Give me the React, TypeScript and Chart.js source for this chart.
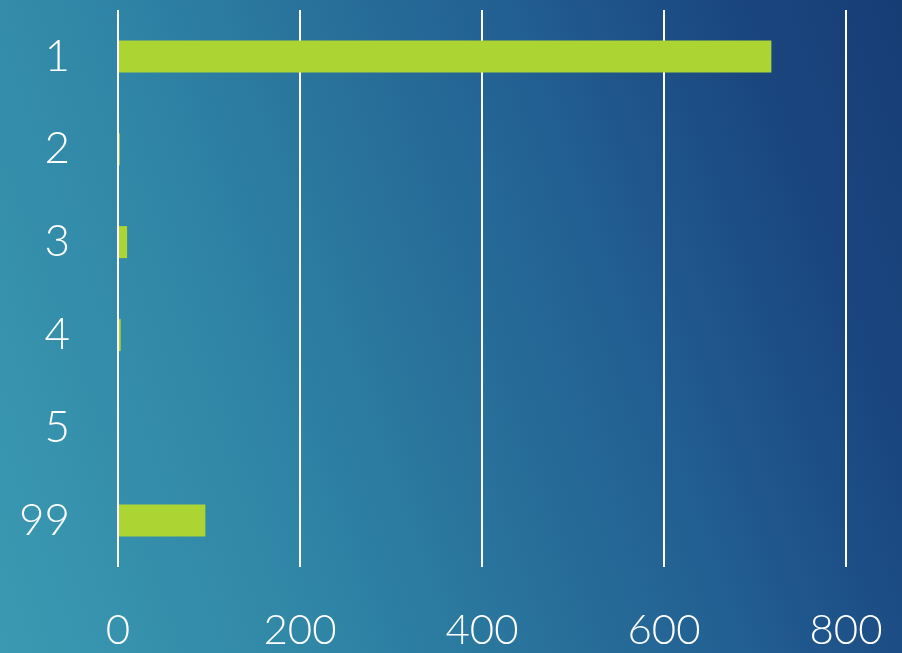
import React, { useEffect, useRef } from "react";
import { Chart, registerables } from "chart.js";

Chart.register(...registerables);

const categories = ["1", "2", "3", "4", "5", "99"];
const values = [718, 2, 10, 3, 0, 96];
const xTicks = [0, 200, 400, 600, 800];

export default function App() {
  const ref = useRef<HTMLCanvasElement | null>(null);

  useEffect(() => {
    document.body.style.margin = "0";
    const ctx = ref.current!.getContext("2d")!;
    const chart = new Chart(ctx, {
      type: "bar",
      data: {
        labels: categories,
        datasets: [
          {
            data: values,
            backgroundColor: "#acd432",
            borderWidth: 0,
            categoryPercentage: 1,
            barPercentage: 0.345,
          },
        ],
      },
      options: {
        indexAxis: "y",
        animation: false,
        responsive: false,
        maintainAspectRatio: false,
        layout: { padding: { top: 10, right: 56, left: 0, bottom: 0 } },
        plugins: { legend: { display: false }, tooltip: { enabled: false } },
        scales: {
          x: {
            min: 0,
            max: 800,
            afterBuildTicks: (s: any) => {
              s.ticks = xTicks.map((v) => ({ value: v }));
            },
            afterFit: (s: any) => {
              s.height = 86;
              s.paddingLeft = 0;
              s.paddingRight = 0;
              s.paddingTop = 0;
              s.paddingBottom = 0;
            },
            grid: { color: "#ffffff", lineWidth: 2, drawTicks: false },
            border: { display: false },
            ticks: {
              color: "#ffffff",
              padding: 38,
              font: { family: "Lato", size: 42, weight: "300" as any },
            },
          },
          y: {
            afterFit: (s: any) => {
              s.width = 118;
              s.paddingLeft = 0;
              s.paddingRight = 0;
              s.paddingTop = 0;
              s.paddingBottom = 0;
            },
            grid: { display: false, drawTicks: false },
            border: { display: false },
            ticks: {
              color: "#ffffff",
              padding: 48,
              font: { family: "Lato", size: 44, weight: "300" as any },
            },
          },
        },
      },
    });
    return () => chart.destroy();
  }, []);

  return (
    <div
      style={{
        position: "absolute",
        left: 0,
        top: 0,
        width: 902,
        height: 653,
        background:
          "linear-gradient(70deg, #3b9ab2 0%, #2f85a5 30%, #225f92 65%, #1a467f 85%, #173d75 100%)",
      }}
    >
      <canvas ref={ref} width={902} height={653} style={{ display: "block" }} />
    </div>
  );
}
